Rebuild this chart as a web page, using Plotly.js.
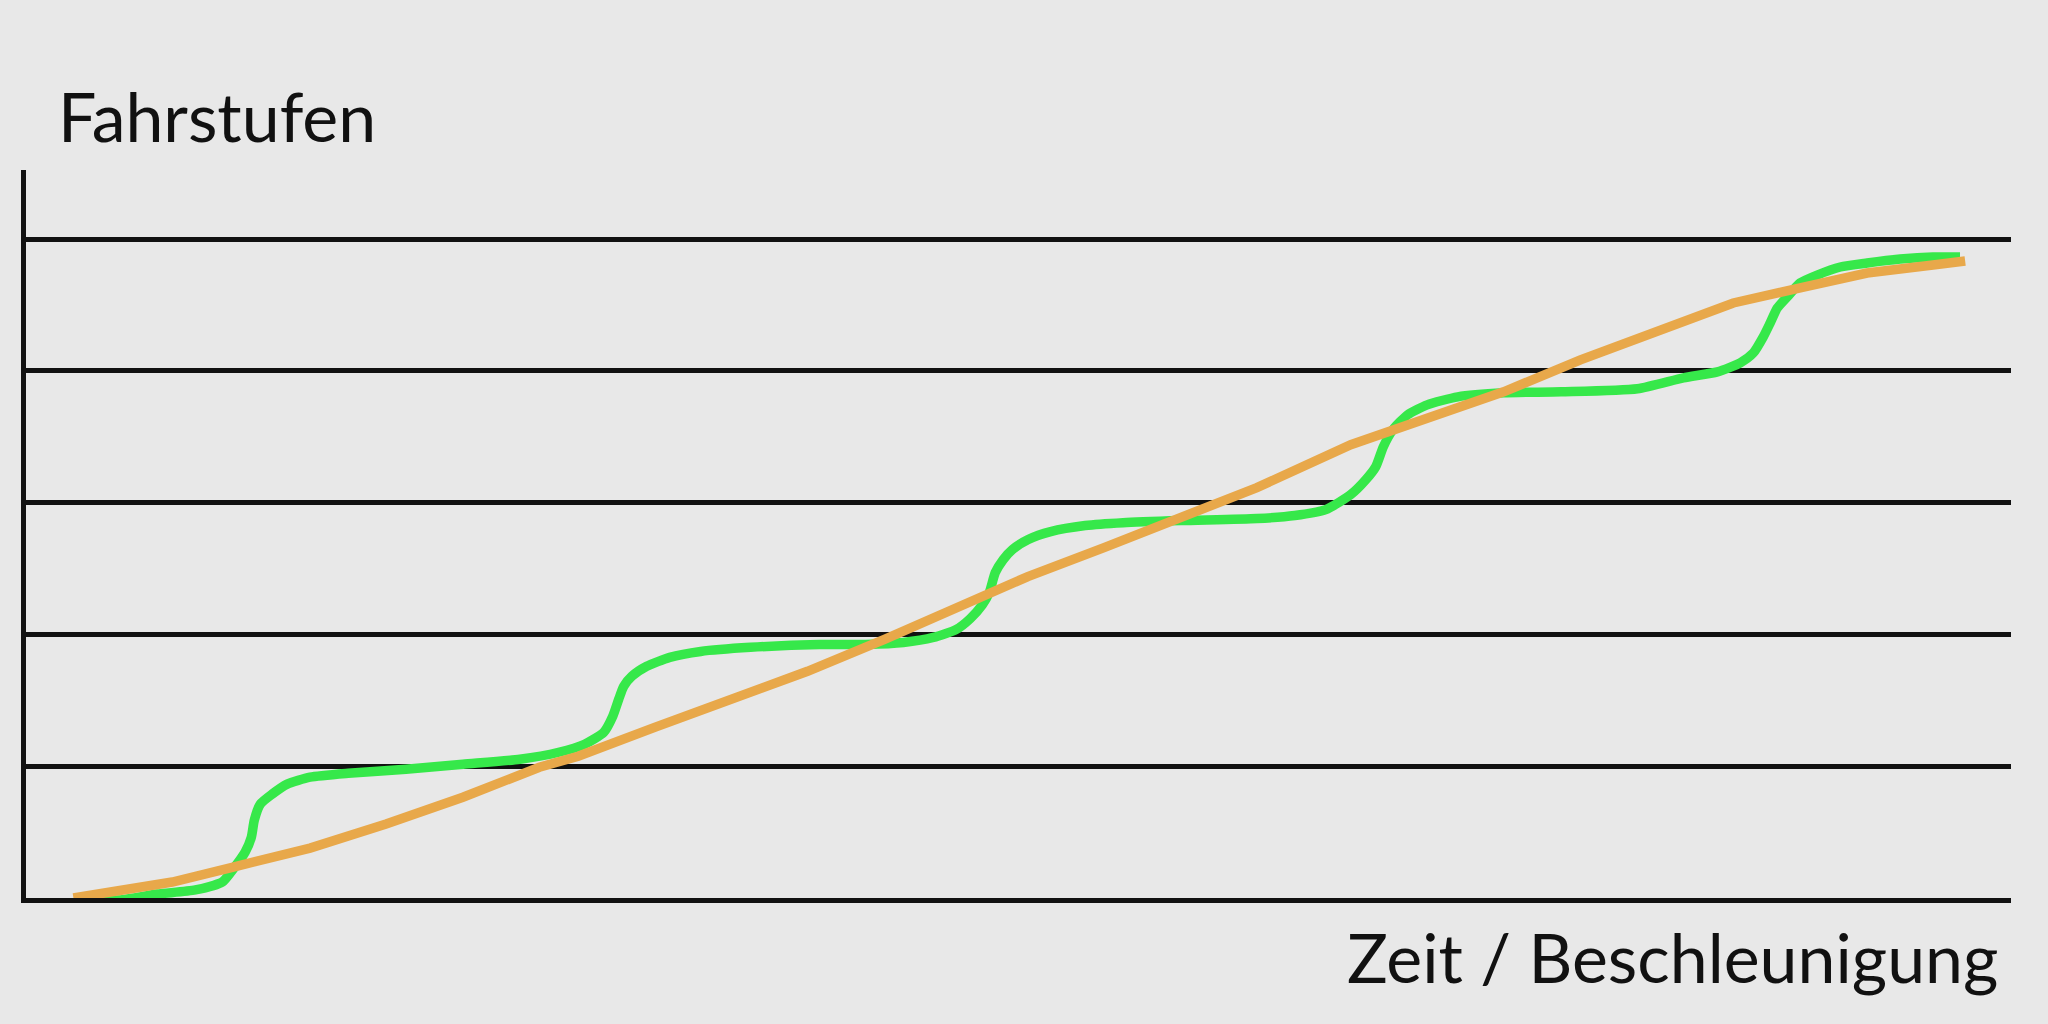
<!DOCTYPE html>
<html>
<head>
<meta charset="utf-8">
<script src="https://cdn.plot.ly/plotly-3.0.1.min.js"></script>
<style>
  html, body { margin: 0; padding: 0; background: #e8e8e8; }
  #chart { width: 2048px; height: 1024px; }
</style>
</head>
<body>
<div id="chart"></div>
<script>
// Time / acceleration axis (0..100) and speed steps (Fahrstufen 0..5)
const gleichmaessigX = [2.39, 5.46, 7.37, 10.44, 14.31, 18.14, 22.01, 25.86, 27.82, 31.67, 35.55, 39.37, 43.25, 47.07, 50.47, 54.31, 58.19, 62.01, 66.74, 70.59, 74.44, 78.31, 82.69, 86.01, 89.38, 92.75, 96.07, 97.69];
const gleichmaessigY = [0.0, 0.068, 0.121, 0.235, 0.379, 0.561, 0.765, 0.992, 1.076, 1.295, 1.508, 1.720, 1.962, 2.205, 2.439, 2.659, 2.886, 3.114, 3.439, 3.644, 3.841, 4.083, 4.333, 4.515, 4.629, 4.742, 4.803, 4.833];

const stufenX = [2.44, 4.68, 6.62, 8.53, 9.89, 10.44, 11.04, 11.35, 11.50, 11.80, 12.40, 13.16, 14.31, 16.23, 19.14, 22.01, 24.88, 26.84, 28.14, 29.11, 29.56, 29.86, 30.11, 30.52, 31.27, 32.43, 33.99, 36.50, 39.97, 42.29, 44.20, 45.71, 46.87, 47.57, 48.18, 48.53, 48.83, 49.23, 49.69, 50.49, 51.62, 53.36, 55.27, 58.19, 62.01, 63.92, 65.48, 66.74, 67.50, 68.00, 68.38, 68.86, 69.61, 70.59, 72.13, 74.44, 77.33, 81.18, 83.50, 85.21, 86.36, 87.02, 87.52, 87.87, 88.23, 88.73, 89.38, 90.24, 91.40, 92.75, 94.42, 96.07, 97.43];
const stufenY = [-0.02, -0.015, 0.030, 0.061, 0.121, 0.220, 0.348, 0.460, 0.590, 0.712, 0.788, 0.864, 0.917, 0.947, 0.977, 1.015, 1.053, 1.106, 1.167, 1.258, 1.379, 1.508, 1.606, 1.682, 1.758, 1.826, 1.871, 1.902, 1.924, 1.924, 1.939, 1.977, 2.038, 2.120, 2.225, 2.318, 2.470, 2.568, 2.644, 2.720, 2.780, 2.826, 2.848, 2.864, 2.879, 2.902, 2.947, 3.061, 3.174, 3.273, 3.424, 3.553, 3.667, 3.742, 3.803, 3.833, 3.841, 3.864, 3.947, 3.992, 4.061, 4.136, 4.258, 4.364, 4.477, 4.561, 4.667, 4.727, 4.788, 4.818, 4.848, 4.864, 4.864];

const stufenTicks = [0, 1, 2, 3, 4, 5];

const traces = [
  {
    x: stufenX, y: stufenY, type: 'scatter', mode: 'lines',
    line: { color: '#36e84a', width: 9.5, shape: 'spline', smoothing: 0.6 },
    hoverinfo: 'skip', showlegend: false
  },
  {
    x: gleichmaessigX, y: gleichmaessigY, type: 'scatter', mode: 'lines',
    line: { color: '#e8a84a', width: 9.5 },
    hoverinfo: 'skip', showlegend: false
  }
];

const layout = {
  width: 2048, height: 1024,
  paper_bgcolor: '#e8e8e8', plot_bgcolor: '#e8e8e8',
  margin: { l: 26, r: 37, t: 170, b: 126 },
  showlegend: false,
  font: { family: 'Lato, "DejaVu Sans", sans-serif', color: '#111111' },
  title: {
    text: 'Fahrstufen',
    font: { family: 'Lato, sans-serif', size: 68, color: '#111111' },
    x: 58 / 2048, xref: 'container', xanchor: 'left',
    y: 1 - 118 / 1024, yref: 'container', yanchor: 'middle'
  },
  xaxis: {
    range: [0, 100], showgrid: false, zeroline: false,
    showline: true, linewidth: 5, linecolor: '#111111',
    showticklabels: false, ticks: '', fixedrange: true
  },
  yaxis: {
    range: [0, 5.524], tickvals: stufenTicks, showgrid: true,
    gridcolor: '#111111', gridwidth: 5, zeroline: false,
    showline: true, linewidth: 5, linecolor: '#111111',
    showticklabels: false, ticks: '', fixedrange: true
  },
  annotations: [
    {
      text: 'Zeit / Beschleunigung',
      xref: 'paper', yref: 'paper', x: 1 - 11 / 1985, y: -0.081,
      xanchor: 'right', yanchor: 'middle', showarrow: false,
      font: { family: 'Lato, sans-serif', size: 68, color: '#111111' }
    }
  ]
};

Plotly.newPlot('chart', traces, layout, { displayModeBar: false, staticPlot: true });
</script>
</body>
</html>
